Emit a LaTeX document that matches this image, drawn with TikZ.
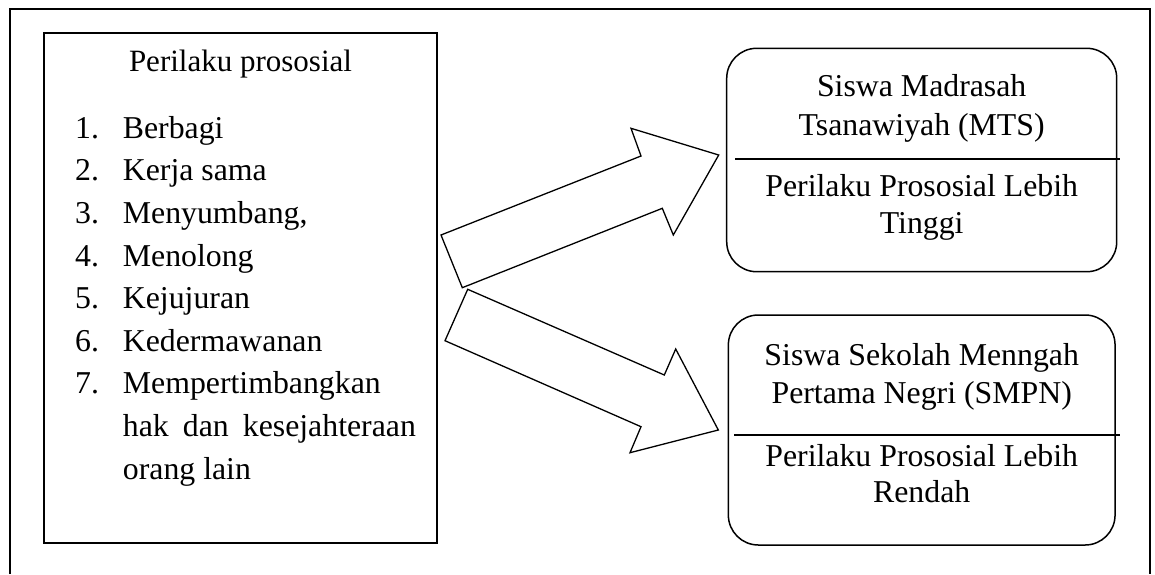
\documentclass[tikz,border=0pt]{standalone}
\usepackage{fontspec}
\setmainfont{Liberation Serif}
\begin{document}
\begin{tikzpicture}[x=1pt,y=-1pt,
  every node/.style={font=\fontsize{31.8}{37}\selectfont, inner sep=0pt},
  frameline/.style={line width=1.5pt},
  listbox/.style={draw, line width=1.9pt, rectangle, inner sep=0pt},
  groupbox/.style={draw, line width=1.5pt, rectangle, rounded corners=30pt, inner sep=0pt},
  divider/.style={line width=1.3pt},
  blockarrow/.style={line width=1.3pt, line join=miter},
  txt/.style={anchor=base},
  item/.style={anchor=base west}
]
\useasboundingbox (0,0) rectangle (1155,574);
% outer frame (bottom edge outside the picture)
\coordinate (fbl) at (10,574);
\coordinate (ftl) at (10,9);
\coordinate (ftr) at (1150,9);
\coordinate (fbr) at (1150,574);
\draw[frameline] (fbl) -- (ftl) -- (ftr) -- (fbr);

% left box
\node[listbox, minimum width=393pt, minimum height=510pt] (left) at (240.5,288) {};
\node[txt, font=\fontsize{31}{37}\selectfont] (title) at (240.5,71) {Perilaku prososial};
\node[item] (n1) at (75,138.3) {1.};
\node[item] (i1) at (122.7,138.3) {Berbagi};
\node[item] (n2) at (75,180.9) {2.};
\node[item] (i2) at (122.7,180.9) {Kerja sama};
\node[item] (n3) at (75,223.5) {3.};
\node[item] (i3) at (122.7,223.5) {Menyumbang,};
\node[item] (n4) at (75,266.1) {4.};
\node[item] (i4) at (122.7,266.1) {Menolong};
\node[item] (n5) at (75,308.7) {5.};
\node[item] (i5) at (122.7,308.7) {Kejujuran};
\node[item] (n6) at (75,351.3) {6.};
\node[item] (i6) at (122.7,351.3) {Kedermawanan};
\node[item] (n7) at (75,393.9) {7.};
\node[item] (i7) at (122.7,393.9) {Mempertimbangkan};
\node[item] (i7b) at (122.7,436.5) {\makebox[293pt][s]{hak dan kesejahteraan}};
\node[item] (i7c) at (122.7,479.1) {orang lain};

% upper right box
\node[groupbox, minimum width=390pt, minimum height=223.4pt] (mts) at (921.7,160) {};
\coordinate (d1a) at (735,159);
\coordinate (d1b) at (1120,159);
\draw[divider] (d1a) -- (d1b);
\node[txt] (mts1) at (921.7,96.7) {Siswa Madrasah};
\node[txt] (mts2) at (921.7,135) {Tsanawiyah (MTS)};
\node[txt] (mts3) at (921.7,196) {Perilaku Prososial Lebih};
\node[txt] (mts4) at (921.7,233.3) {Tinggi};

% lower right box
\node[groupbox, minimum width=386.7pt, minimum height=230pt] (smp) at (921.7,430) {};
\coordinate (d2a) at (734,435);
\coordinate (d2b) at (1120,435);
\draw[divider] (d2a) -- (d2b);
\node[txt] (smp1) at (921.7,365) {Siswa Sekolah Menngah};
\node[txt] (smp2) at (921.7,403.3) {Pertama Negri (SMPN)};
\node[txt] (smp3) at (921.7,466.7) {Perilaku Prososial Lebih};
\node[txt] (smp4) at (921.7,502.3) {Rendah};

% upper block arrow
\coordinate (ua1) at (441,235);
\coordinate (ua2) at (641,156);
\coordinate (ua3) at (631,128.3);
\coordinate (ua4) at (718.7,155);
\coordinate (ua5) at (673.3,235);
\coordinate (ua6) at (662.3,208.3);
\coordinate (ua7) at (462.3,287.7);
\draw[blockarrow] (ua1) -- (ua2) -- (ua3) -- (ua4) -- (ua5) -- (ua6) -- (ua7) -- cycle;

% lower block arrow
\coordinate (la1) at (467.7,289.3);
\coordinate (la2) at (664.3,375);
\coordinate (la3) at (675.7,349);
\coordinate (la4) at (718.3,430);
\coordinate (la5) at (630,452.7);
\coordinate (la6) at (641,426.7);
\coordinate (la7) at (445,340.7);
\draw[blockarrow] (la1) -- (la2) -- (la3) -- (la4) -- (la5) -- (la6) -- (la7) -- cycle;
\end{tikzpicture}
\end{document}
